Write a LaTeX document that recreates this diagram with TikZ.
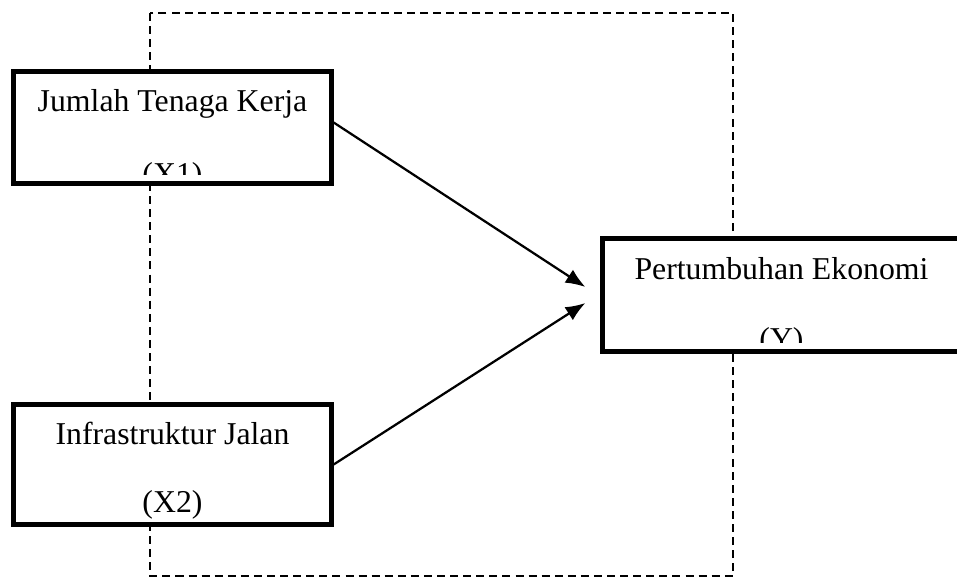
\documentclass[tikz,border=0pt]{standalone}
\usepackage{fontspec}
\setmainfont{Liberation Serif}
\usepackage{tikz}
\usetikzlibrary{arrows.meta,positioning}

\begin{document}
\begin{tikzpicture} [
  x = 0.025cm, y = -0.025cm,
  varbox/.style = { draw, line width = 3pt, fill = white, inner sep = 0, minimum width = 7.95cm },
  txt/.style = { anchor = base, inner sep = 0, font = \fontsize{22.6pt}{27pt}\selectfont },
  link/.style = { line width = 1.6pt, -{Latex[length = 14pt, width = 11pt]} },
  frame/.style = { line width = 1.1pt, dash pattern = on 5.7pt off 3.6pt }
  ]

  \clip (0,0) rectangle (957,577);
  \draw[frame] (150,13) rectangle (733,576);

  % variabel bebas
  \node[varbox, minimum height = 2.8cm] (tenaga) at (172.5,127.5) {};
  \node[varbox, minimum height = 3cm] (jalan) at (172.5,464.5) {};
  % variabel terikat
  \node[varbox, minimum width = 8.95cm, minimum height = 2.825cm] (ekonomi) at (781.5,295) {};

  \node[txt] (tenagaA) at (172.5,112) {Jumlah Tenaga Kerja};
  \node[txt] (jalanA) at (172.5,444) {Infrastruktur Jalan};
  \node[txt] (jalanB) at ([yshift=-1.7cm]jalanA.base) {(X2)};
  \node[txt] (ekonomiA) at (781.5,279) {Pertumbuhan Ekonomi};

  \begin{scope}
    \clip (tenaga.north west) rectangle ([yshift=0.29cm]tenaga.south east);
    \node[txt] (tenagaB) at ([yshift=-1.8cm]tenagaA.base) {(X1)};
  \end{scope}
  \begin{scope}
    \clip (ekonomi.north west) rectangle ([yshift=0.29cm]ekonomi.south east);
    \node[txt] (ekonomiB) at ([yshift=-1.75cm]ekonomiA.base) {(Y)};
  \end{scope}

  \coordinate (tip1) at ([shift={(-15,-8)}]ekonomi.west);
  \coordinate (tip2) at ([shift={(-15,8)}]ekonomi.west);
  \draw[link] ([shift={(0,-5)}]tenaga.east) -- (tip1);
  \draw[link] (jalan.east) -- (tip2);
\end{tikzpicture}
\end{document}
